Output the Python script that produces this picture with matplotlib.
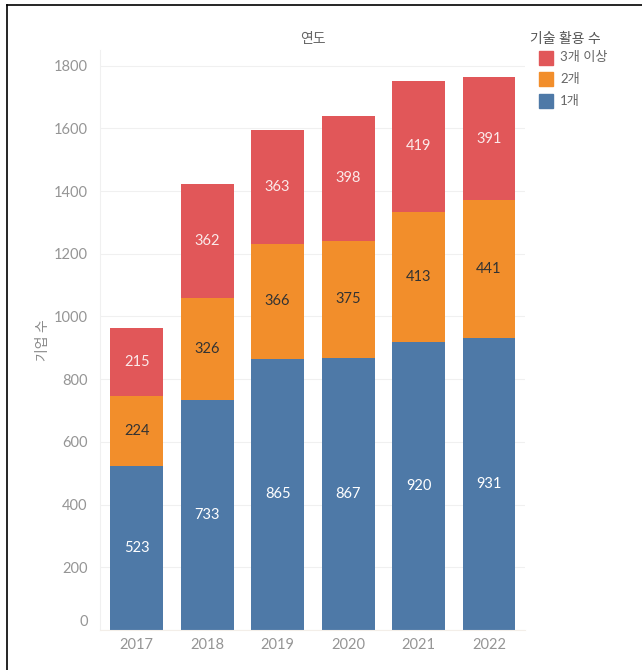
import matplotlib
matplotlib.use("Agg")
import matplotlib.pyplot as plt
import matplotlib.transforms as mtransforms
from matplotlib.lines import Line2D
from matplotlib.patches import Rectangle

plt.rcParams['font.family'] = ['Lato', 'Noto Sans CJK KR', 'DejaVu Sans']

years = ['2017', '2018', '2019', '2020', '2021', '2022']
one = [523, 733, 865, 867, 920, 931]
two = [224, 326, 366, 375, 413, 441]
three_plus = [215, 362, 363, 398, 419, 391]

series_names = ['3개 이상', '2개', '1개']
colors = {'1개': '#4e79a7', '2개': '#f28e2b', '3개 이상': '#e15759'}
label_colors = {'1개': '#ffffff', '2개': '#333333', '3개 이상': '#fbeaea'}

fig = plt.figure(figsize=(6.42, 6.70), dpi=100)
ax = fig.add_axes([100 / 642, 1 - 630 / 670, 425 / 642, 580 / 670])

x = list(range(len(years)))
bottom = [0] * len(years)
for name, vals in [('1개', one), ('2개', two), ('3개 이상', three_plus)]:
    ax.bar(x, vals, width=0.75, bottom=bottom, color=colors[name],
           linewidth=0, zorder=2)
    for xi, b, v in zip(x, bottom, vals):
        ax.text(xi, b + v / 2, f"{v}", ha='center', va='center',
                fontsize=10.5, color=label_colors[name], zorder=3)
    bottom = [b + v for b, v in zip(bottom, vals)]

ax.set_xlim(-0.52, 5.51)
ax.set_ylim(0, 1850)
ax.set_yticks(range(0, 1801, 200))
ax.set_xticks(x)
ax.set_xticklabels(years)
ax.tick_params(axis='both', length=0, colors='#959595', labelsize=10.5)
ax.tick_params(axis='y', pad=9)
ax.tick_params(axis='x', pad=6)
ax.grid(axis='y', color='#f0f0f0', linewidth=0.8, zorder=0)
ax.set_axisbelow(True)
for side in ['top', 'right']:
    ax.spines[side].set_visible(False)
ax.spines['left'].set_color('#f0f0f0')
ax.spines['bottom'].set_color('#f3eee8')

ax.set_ylabel('기업 수', color='#8a8a8a', fontsize=10)
ax.yaxis.set_label_coords(-0.12, 0.5)
ax.set_title('연도', color='#666666', fontsize=10, pad=5)

# zero label sits slightly above the baseline
yl = ax.get_yticklabels()
offset = mtransforms.ScaledTranslation(0, 10 / 100, fig.dpi_scale_trans)
yl[0].set_transform(yl[0].get_transform() + offset)

# legend
fig.text(530 / 642, 1 - 38 / 670, '기술 활용 수', color='#555555', fontsize=10,
         ha='left', va='center')
for i, name in enumerate(series_names):
    yc = 57.5 + i * 21.5
    fig.add_artist(Rectangle((539 / 642, 1 - (yc + 7) / 670), 14 / 642, 14 / 670,
                             transform=fig.transFigure, color=colors[name]))
    fig.text(560 / 642, 1 - yc / 670, name, color='#666666', fontsize=9.5,
             ha='left', va='center')

# frame lines
fig.add_artist(Line2D([7 / 642, 1], [1 - 5 / 670, 1 - 5 / 670],
                      transform=fig.transFigure, color='black', linewidth=1.2))
fig.add_artist(Line2D([7 / 642, 7 / 642], [0, 1 - 5 / 670],
                      transform=fig.transFigure, color='black', linewidth=1.2))

fig.savefig('out.png', dpi=100, facecolor='white')
